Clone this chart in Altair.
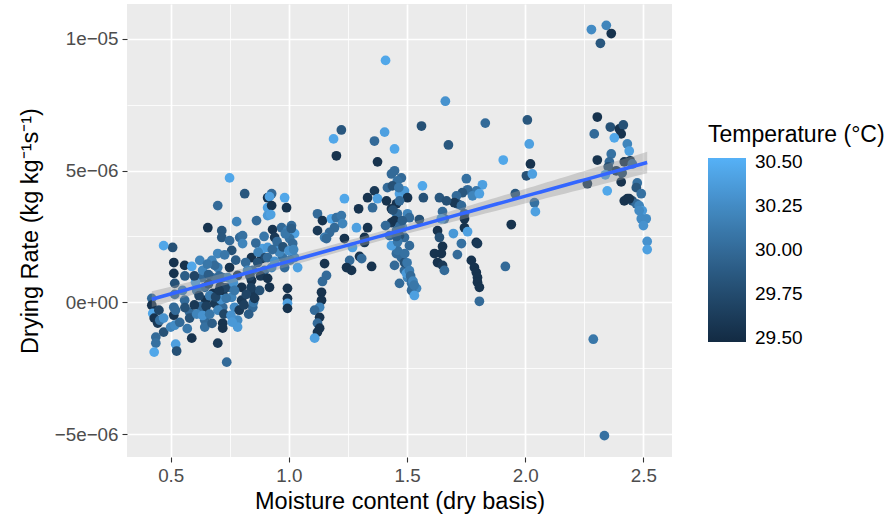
import altair as alt
import numpy as np
import pandas as pd

# Each tuple: (moisture content dry basis, drying rate in 1e-6 kg kg^-1 s^-1, temperature degC)
low_runs = [
    (0.420, 0.15, 30.00), (0.420, -0.11, 29.55), (0.424, -0.42, 30.45), (0.430, -0.60, 29.55), (0.445, -0.79, 29.60),
    (0.470, -1.13, 29.80), (0.437, -1.32, 30.00), (0.437, -1.55, 30.05), (0.430, -1.89, 30.45), (0.500, -0.94, 30.20),
    (0.517, -0.87, 30.25), (0.513, -0.49, 29.55), (0.513, -0.19, 30.00), (0.517, 0.30, 30.00), (0.517, 0.72, 29.80),
    (0.513, 1.10, 29.55), (0.513, 1.51, 29.55), (0.508, 2.08, 29.80), (0.470, 2.15, 30.45), (0.559, 1.40, 29.55),
    (0.589, 1.36, 30.45), (0.580, -0.38, 30.00), (0.580, -0.60, 29.80), (0.589, -1.36, 29.55), (0.521, -1.59, 30.40),
    (0.525, -1.85, 29.80), (0.631, 0.94, 30.00), (0.635, 1.21, 30.20), (0.644, 0.57, 30.00), (0.648, 0.08, 29.55),
    (0.644, -0.30, 29.60), (0.644, -0.68, 30.00), (0.644, -0.94, 30.05), (0.657, 2.83, 29.55), (0.674, 1.59, 30.20),
    (0.674, 0.94, 30.00), (0.678, 0.34, 29.55), (0.686, -0.04, 29.60), (0.699, 3.67, 30.00), (0.716, 2.72, 29.85),
    (0.716, 2.46, 29.85), (0.699, 1.85, 30.20), (0.699, 1.32, 30.15), (0.720, 0.94, 30.00), (0.720, 0.34, 29.55),
    (0.720, -0.19, 30.00), (0.720, -0.79, 29.55), (0.720, -0.98, 29.55), (0.699, -1.55, 29.60), (0.737, -2.27, 30.00),
    (0.749, 4.72, 30.45), (0.813, 4.12, 29.85), (0.779, 3.06, 30.20), (0.749, 2.34, 30.00), (0.758, 1.97, 29.80),
    (0.749, 1.32, 29.55), (0.741, 0.94, 30.20), (0.749, 0.57, 30.00), (0.758, 0.19, 30.20), (0.770, -0.19, 30.25),
    (0.783, -0.68, 30.25), (0.783, -0.94, 30.35), (0.800, 0.57, 29.55), (0.800, 0.08, 29.60), (0.792, 2.46, 30.00),
    (0.804, 2.53, 30.05), (0.804, 2.23, 30.20), (0.863, 3.10, 30.00), (0.842, 1.70, 29.55), (0.847, 1.21, 30.00),
    (0.842, 0.83, 29.55), (0.847, 0.34, 29.60), (0.847, -0.19, 30.00), (0.885, 1.66, 29.55), (0.889, 2.04, 30.40),
    (0.897, 1.21, 30.00), (0.910, 3.97, 29.55), (0.910, 3.59, 30.40), (0.910, 3.29, 30.35), (0.817, 1.51, 30.00),
    (0.825, 1.21, 30.20), (0.783, 1.02, 29.55), (0.868, 1.51, 29.80), (0.876, 0.45, 29.80), (0.686, 1.40, 30.00),
    (0.623, 1.59, 30.20), (0.605, 0.76, 30.40), (0.559, 0.08, 30.00), (0.538, -0.76, 30.00), (0.454, -0.68, 30.05),
    (0.655, 1.45, 30.10), (0.660, 1.05, 29.90), (0.660, 0.70, 29.70), (0.665, 0.25, 30.15), (0.705, 1.00, 30.00),
    (0.710, 0.60, 29.60), (0.712, 0.10, 30.30), (0.728, 1.80, 30.10), (0.730, 0.55, 29.70), (0.765, 0.75, 30.30),
    (0.770, 0.45, 30.10), (0.775, 1.60, 29.90), (0.835, 1.00, 29.70), (0.840, 0.55, 29.65), (0.850, 0.00, 30.10),
    (0.860, 2.25, 30.00), (0.870, 1.90, 30.20), (0.880, 1.00, 29.60), (0.895, 2.50, 30.10), (0.900, 1.70, 29.75),
    (0.600, 1.00, 29.70), (0.610, 0.45, 30.10), (0.625, -0.15, 30.00), (0.550, 0.45, 30.15), (0.560, 1.00, 29.90),
]

low_run_bottoms = [
    (0.600, -0.10, 29.60), (0.610, -0.45, 30.20), (0.620, 0.25, 29.70), (0.635, -0.50, 30.30), (0.650, -0.15, 29.65),
    (0.665, -0.45, 30.10), (0.675, -0.80, 29.90), (0.690, 0.20, 29.70), (0.700, -0.30, 30.20), (0.705, 0.45, 29.60),
    (0.725, -0.45, 29.70), (0.735, 0.15, 30.10), (0.755, -0.50, 30.30), (0.760, -0.75, 30.35), (0.790, -0.30, 29.60),
    (0.810, -0.10, 29.65), (0.820, 0.30, 29.70), (0.830, -0.45, 29.90), (0.855, 0.15, 29.60), (0.520, -0.30, 30.00),
    (0.450, -0.30, 29.70), (0.470, -0.60, 30.30), (0.560, -0.20, 29.80), (0.570, -1.00, 30.10),
]

mid_runs = [
    (0.927, 4.12, 30.00), (0.918, 4.01, 30.40), (0.982, 3.97, 30.45), (0.927, 3.67, 29.55), (0.990, 3.59, 29.55),
    (0.923, 3.33, 30.40), (0.931, 2.76, 29.55), (0.940, 2.46, 29.60), (0.969, 2.83, 30.00), (0.994, 2.72, 30.15),
    (1.011, 2.91, 30.00), (1.024, 2.61, 30.40), (1.003, 2.42, 30.05), (1.016, 2.23, 30.00), (0.948, 2.08, 30.40),
    (0.910, 2.08, 30.35), (0.910, 1.70, 30.00), (0.973, 1.70, 30.05), (1.024, 1.70, 30.20), (1.037, 1.32, 30.40),
    (0.982, 1.32, 30.00), (0.927, 1.32, 30.20), (0.910, 0.91, 29.55), (0.918, 0.57, 29.55), (0.994, 0.53, 29.55),
    (0.994, 0.15, 29.55), (0.994, -0.04, 30.40), (0.994, -0.23, 29.55), (1.121, 3.36, 30.00), (1.142, 3.10, 29.55),
    (1.121, 2.72, 29.60), (1.180, 3.17, 30.45), (1.201, 3.21, 30.05), (1.222, 3.29, 30.10), (1.227, 2.99, 30.20),
    (1.193, 2.83, 30.00), (1.172, 2.65, 30.00), (1.151, 2.46, 30.15), (1.159, 2.42, 30.00), (1.235, 2.42, 29.55),
    (1.151, 1.47, 29.55), (1.159, 1.02, 30.00), (1.142, 0.79, 30.00), (1.138, 0.38, 29.55), (1.138, 0.08, 29.55),
    (1.130, -0.19, 30.20), (1.109, -0.30, 30.00), (1.130, -0.57, 29.55), (1.121, -0.79, 30.00), (1.130, -0.98, 29.55),
    (1.121, -1.13, 29.55), (1.109, -1.36, 30.40), (1.235, 3.93, 30.45), (1.295, 3.55, 29.55), (1.333, 3.97, 29.55),
    (1.362, 4.23, 29.60), (1.375, 3.93, 30.40), (1.354, 3.59, 30.00), (1.286, 2.83, 30.40), (1.333, 2.83, 29.55),
    (1.320, 2.46, 29.55), (1.320, 2.27, 29.60), (1.269, 2.08, 30.40), (1.299, 1.74, 29.55), (1.308, 1.66, 30.00),
    (1.257, 1.59, 30.00), (1.244, 1.32, 29.55), (1.265, 1.21, 29.55), (1.350, 1.36, 29.55), (1.222, 6.54, 29.85),
    (1.189, 6.20, 30.45), (1.201, 5.56, 29.55), (1.362, 6.12, 30.00), (1.405, 6.46, 30.40), (1.375, 5.33, 29.55),
    (1.447, 5.82, 30.45), (1.434, 4.87, 30.00), (1.417, 4.35, 30.00), (1.413, 3.85, 29.55), (1.434, 3.55, 29.55),
    (1.434, 3.02, 29.60), (1.455, 3.36, 30.40), (1.455, 2.72, 30.00), (1.455, 1.85, 30.00), (1.409, 9.18, 30.45),
    (0.950, 2.30, 30.00), (0.960, 1.90, 30.20), (0.975, 2.10, 29.80), (0.985, 2.60, 30.10), (1.000, 1.95, 30.30),
    (1.005, 1.60, 30.10), (1.010, 2.80, 29.90), (0.940, 1.55, 30.30), (0.930, 2.00, 30.00), (1.020, 2.00, 30.20),
]

upper_runs = [
    (1.662, 7.63, 30.30), (1.561, 6.69, 29.80), (1.675, 5.97, 29.85), (1.831, 6.80, 30.00), (2.009, 6.92, 29.85),
    (2.017, 6.01, 30.40), (1.907, 5.40, 30.45), (1.751, 4.69, 30.05), (1.819, 4.46, 30.40), (1.793, 4.23, 30.10),
    (1.756, 4.27, 30.00), (1.734, 4.16, 29.85), (1.777, 4.04, 30.20), (1.806, 4.12, 30.40), (1.709, 4.04, 30.00),
    (1.713, 3.74, 29.80), (1.700, 3.78, 29.60), (1.730, 3.67, 30.00), (1.637, 3.97, 29.85), (1.667, 3.85, 29.80),
    (1.565, 4.42, 30.45), (1.569, 3.97, 29.80), (1.650, 3.44, 30.00), (1.658, 3.17, 30.05), (1.645, 3.17, 30.35),
    (1.743, 3.36, 29.85), (1.743, 3.17, 29.55), (1.743, 2.83, 29.55), (1.756, 2.68, 30.40), (1.696, 2.61, 30.35),
    (1.730, 2.23, 30.05), (1.713, 1.81, 30.00), (1.650, 2.12, 29.55), (1.629, 2.72, 29.55), (1.637, 2.46, 29.80),
    (1.645, 1.85, 29.55), (1.616, 1.85, 29.55), (1.629, 1.51, 29.55), (1.650, 1.40, 29.60), (1.658, 1.21, 30.00),
    (1.772, 1.59, 29.55), (1.785, 1.32, 29.55), (1.793, 1.13, 29.55), (1.798, 0.94, 29.55), (1.798, 0.76, 29.55),
    (1.806, 0.57, 29.55), (1.806, 0.04, 30.00), (1.916, 1.36, 30.00), (1.941, 2.95, 29.55), (1.958, 4.12, 29.85),
    (1.793, 2.27, 29.55), (1.798, 2.23, 29.60), (1.489, 2.46, 30.00), (1.476, 1.70, 30.00), (1.489, 1.21, 30.00),
    (1.502, 0.94, 30.20), (1.519, 0.83, 30.00), (1.523, 0.57, 30.40), (1.540, 0.53, 30.20), (1.497, 1.10, 30.35),
    (1.519, 0.72, 30.05), (1.468, 4.12, 30.40), (1.489, 4.23, 30.35), (1.502, 3.97, 29.55), (1.455, 3.74, 29.55),
    (1.459, 3.36, 30.00), (1.502, 3.36, 30.20), (1.481, 2.83, 30.20), (1.552, 3.14, 29.80), (1.510, 3.21, 30.00),
    (1.476, 4.72, 30.00), (1.459, 4.61, 30.05), (1.447, 4.99, 30.00), (1.438, 4.42, 29.80), (1.468, 3.85, 30.00),
    (1.447, 3.10, 29.55), (1.468, 2.53, 29.80), (1.510, 2.15, 30.00), (1.459, 1.97, 30.05), (1.489, 1.51, 29.80),
    (1.447, 1.40, 30.00), (1.468, 0.72, 30.00), (1.519, 0.45, 30.00), (1.531, 0.26, 30.40), (1.434, 2.15, 30.40),
    (1.426, 2.53, 30.00), (1.409, 2.91, 30.00), (1.460, 2.30, 30.10), (1.470, 2.90, 30.00), (1.480, 3.10, 29.90),
    (1.490, 1.85, 30.05), (1.500, 1.50, 30.10), (1.510, 1.20, 30.15), (1.515, 1.00, 30.00), (1.525, 0.80, 30.20),
    (1.530, 0.65, 30.10), (1.455, 2.50, 29.90), (1.440, 3.50, 29.80), (1.465, 4.35, 30.10),
]

wet_runs = [
    (2.022, 5.25, 29.55), (2.005, 4.80, 29.80), (2.030, 4.87, 30.40), (2.039, 3.78, 30.05), (2.043, 3.44, 30.40),
    (2.305, 7.03, 29.55), (2.292, 6.39, 30.00), (2.360, 6.65, 29.80), (2.398, 6.58, 29.55), (2.415, 6.73, 29.80),
    (2.406, 6.39, 29.55), (2.377, 6.24, 30.45), (2.432, 6.01, 30.20), (2.440, 5.74, 30.40), (2.364, 5.63, 30.05),
    (2.305, 5.40, 29.55), (2.356, 5.33, 30.00), (2.351, 5.14, 29.80), (2.385, 4.99, 29.60), (2.419, 5.33, 29.55),
    (2.444, 5.37, 29.55), (2.453, 5.25, 30.00), (2.339, 4.84, 30.40), (2.263, 4.50, 29.60), (2.347, 4.23, 30.45),
    (2.406, 4.57, 29.55), (2.474, 4.53, 30.05), (2.470, 4.35, 29.85), (2.491, 4.12, 30.05), (2.419, 3.85, 29.55),
    (2.432, 3.93, 29.55), (2.453, 3.85, 29.80), (2.470, 3.74, 30.00), (2.482, 3.67, 30.20), (2.495, 3.48, 30.35),
    (2.491, 3.17, 30.25), (2.512, 3.17, 30.25), (2.500, 2.91, 30.30), (2.516, 2.31, 30.30), (2.516, 2.00, 30.40),
    (2.280, 10.35, 30.25), (2.343, 10.51, 30.20), (2.364, 10.20, 29.55), (2.318, 9.83, 29.85), (2.288, -1.40, 30.10),
    (2.335, -5.06, 30.05), (2.440, 3.93, 29.55), (2.410, 4.91, 29.75), (2.482, 3.48, 30.25),
]

x_tick_values = [0.5, 0.75, 1.0, 1.25, 1.5, 1.75, 2.0, 2.25, 2.5]
x_tick_labels = ["0.5", "", "1.0", "", "1.5", "", "2.0", "", "2.5"]
y_tick_values = [-5e-6, -2.5e-6, 0.0, 2.5e-6, 5e-6, 7.5e-6, 1e-5]
y_tick_labels = ["\u22125e\u221206", "", "0e+00", "", "5e\u221206", "", "1e\u221205"]
legend_values = [29.5, 29.75, 30.0, 30.25, 30.5]

rows = low_runs + low_run_bottoms + mid_runs + upper_runs + wet_runs
df = pd.DataFrame(rows, columns=["mc", "rate_micro", "temp"])
df["rate"] = df["rate_micro"] * 1e-6

# linear fit with 95% confidence band (geom_smooth(method = "lm"))
x = df["mc"].to_numpy()
y = df["rate"].to_numpy()
n = len(x)
xb = x.mean()
sxx = ((x - xb) ** 2).sum()
b = ((x - xb) * (y - y.mean())).sum() / sxx
a = y.mean() - b * xb
s = np.sqrt(((y - (a + b * x)) ** 2).sum() / (n - 2))
xs = np.linspace(x.min(), x.max(), 80)
fit = a + b * xs
se = s * np.sqrt(1.0 / n + (xs - xb) ** 2 / sxx)
tq = 1.968
fit_df = pd.DataFrame({"mc": xs, "fit": fit, "lo": fit - tq * se, "hi": fit + tq * se})


def label_expr(values, labels, scale):
    parts = []
    for v, l in zip(values, labels):
        if l:
            parts.append(f"round(datum.value*{scale})=={round(v * scale)} ? '{l}' : ")
    return "".join(parts) + "''"


x_minor = "round(datum.value*4)%2!=0"
y_minor = "round(datum.value*1e7)%50!=0"

x_scale = alt.Scale(domain=[0.315, 2.621], nice=False, zero=False)
y_scale = alt.Scale(domain=[-5.87e-6, 11.32e-6], nice=False, zero=False)

x_axis = alt.Axis(
    values=x_tick_values,
    labelExpr=label_expr(x_tick_values, x_tick_labels, 4),
    gridWidth={"condition": {"test": x_minor, "value": 0.8}, "value": 1.7},
    tickOpacity={"condition": {"test": x_minor, "value": 0}, "value": 1},
    labelOverlap=False,
    labelFlush=False,
    title="Moisture content (dry basis)",
)
y_axis = alt.Axis(
    values=y_tick_values,
    labelExpr=label_expr(y_tick_values, y_tick_labels, 1e7),
    gridWidth={"condition": {"test": y_minor, "value": 0.8}, "value": 1.7},
    tickOpacity={"condition": {"test": y_minor, "value": 0}, "value": 1},
    labelOverlap=False,
    title="Drying Rate (kg kg\u207b\u00b9s\u207b\u00b9)",
    titlePadding=12,
)

points = alt.Chart(df).mark_circle(size=95, opacity=1).encode(
    x=alt.X("mc:Q", scale=x_scale, axis=x_axis),
    y=alt.Y("rate:Q", scale=y_scale, axis=y_axis),
    color=alt.Color(
        "temp:Q",
        scale=alt.Scale(domain=[29.478, 30.522], range=["#132B43", "#56B1F7"], interpolate="lab"),
        legend=alt.Legend(
            title="Temperature (\u00b0C)",
            orient="none",
            legendX=581,
            legendY=120,
            values=legend_values,
            format=".2f",
            gradientLength=184,
            gradientThickness=38,
            gradientStrokeWidth=0,
            labelFontSize=19,
            labelColor="black",
            labelOffset=9,
            labelOverlap=False,
            titleFontSize=23,
            titleLimit=400,
            titleFontWeight="normal",
            titleColor="black",
            titlePadding=11,
            labelFont="Liberation Sans",
            titleFont="Liberation Sans",
        ),
    ),
)

band = alt.Chart(fit_df).mark_area(color="#999999", opacity=0.4).encode(
    x=alt.X("mc:Q", scale=x_scale),
    y=alt.Y("lo:Q", scale=y_scale),
    y2="hi:Q",
)
line = alt.Chart(fit_df).mark_line(color="#3366FF", strokeWidth=3.5).encode(
    x=alt.X("mc:Q", scale=x_scale),
    y=alt.Y("fit:Q", scale=y_scale),
)

chart = (
    alt.layer(points, band, line)
    .properties(width=545, height=453, padding={"left": 18, "top": 4, "right": 5, "bottom": 5})
    .configure_view(fill="#EBEBEB", stroke=None)
    .configure_axis(
        domain=False,
        gridColor="white",
        tickColor="#333333",
        tickWidth=1.1,
        tickSize=5,
        labelColor="#4D4D4D",
        labelFontSize=18.8,
        labelFont="Liberation Sans",
        labelPadding=4,
        titleFont="Liberation Sans",
        titleFontSize=23.5,
        titleFontWeight="normal",
        titleColor="black",
    )
    .configure_axisX(titlePadding=5)
)

chart.save("out.html", embed_options={"renderer": "svg", "actions": False})
